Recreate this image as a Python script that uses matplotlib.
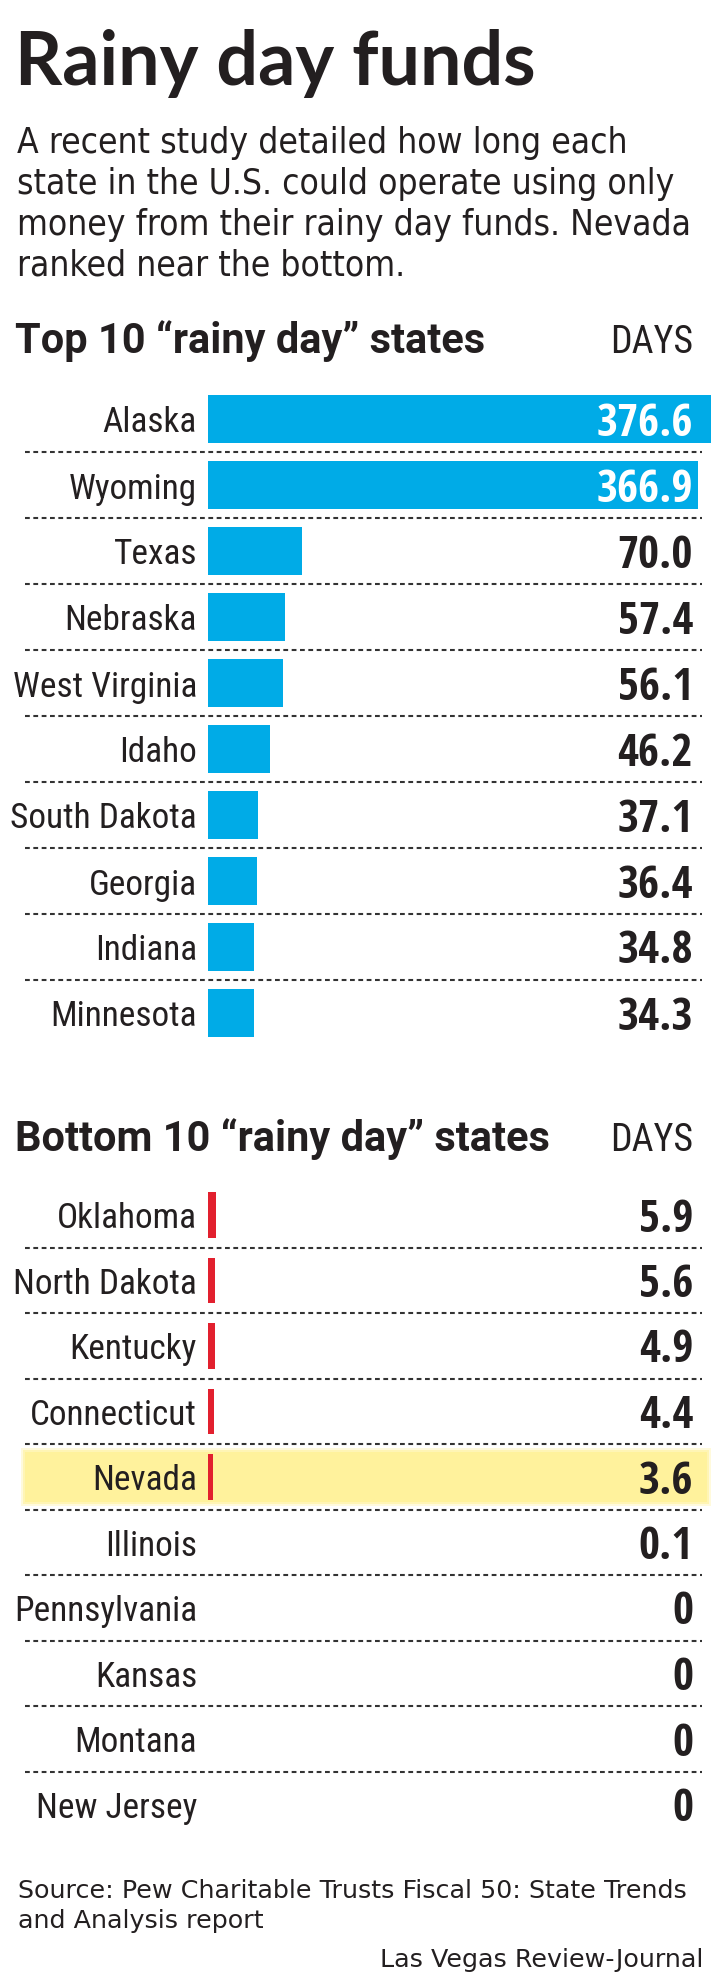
import os
import math
import matplotlib
matplotlib.use("Agg")
import matplotlib.pyplot as plt
from matplotlib import font_manager as fm
from matplotlib import transforms
from matplotlib.patches import Rectangle
from matplotlib.textpath import TextPath

# ---------------- data ----------------
top_states = ["Alaska", "Wyoming", "Texas", "Nebraska", "West Virginia",
              "Idaho", "South Dakota", "Georgia", "Indiana", "Minnesota"]
top_days = [376.6, 366.9, 70.0, 57.4, 56.1, 46.2, 37.1, 36.4, 34.8, 34.3]
top_labels = ["376.6", "366.9", "70.0", "57.4", "56.1",
              "46.2", "37.1", "36.4", "34.8", "34.3"]

bottom_states = ["Oklahoma", "North Dakota", "Kentucky", "Connecticut", "Nevada",
                 "Illinois", "Pennsylvania", "Kansas", "Montana", "New Jersey"]
bottom_days = [5.9, 5.6, 4.9, 4.4, 3.6, 0.1, 0, 0, 0, 0]
bottom_labels = ["5.9", "5.6", "4.9", "4.4", "3.6", "0.1", "0", "0", "0", "0"]
highlight_state = "Nevada"

title = "Rainy day funds"
intro_lines = ["A recent study detailed how long each",
               "state in the U.S. could operate using only",
               "money from their rainy day funds. Nevada",
               "ranked near the bottom."]
top_header = "Top 10 \u201crainy day\u201d states"
bottom_header = "Bottom 10 \u201crainy day\u201d states"
unit_label = "DAYS"
source_lines = ["Source: Pew Charitable Trusts Fiscal 50: State Trends",
                "and Analysis report"]
credit = "Las Vegas Review-Journal"

# ---------------- font choice (pick installed face closest in proportions) ----------------
BASES = ["roboto", "open sans", "noto sans", "liberation sans", "dejavu sans", "lato", "inter"]
OK_WORDS = {"condensed", "semicondensed", "extracondensed", "narrow", "semi", "extra",
            "ultra", "cond", "light", "medium", "semibold", "bold", "black",
            "extrabold", "display", "ultracondensed"}


def candidates(bold):
    out = {}
    target = 700 if bold else 400
    for f in fm.fontManager.ttflist:
        name = f.name.lower()
        if f.style != "normal":
            continue
        base = None
        for b in BASES:
            if name == b or name.startswith(b + " "):
                base = b
                break
        if base is None:
            continue
        rest = name[len(base):].split()
        if any(w not in OK_WORDS for w in rest):
            continue
        try:
            w = int(f.weight)
        except Exception:
            w = fm.weight_dict.get(str(f.weight), 400)
        if abs(w - target) > 100:
            continue
        out[f.fname] = abs(w - target)
    return out


_cache = {}


def ink(path, s):
    key = (path, s)
    if key not in _cache:
        tp = TextPath((0, 0), s, size=100, prop=fm.FontProperties(fname=path))
        ext = tp.get_extents()
        _cache[key] = (ext.width, ext.height)
    return _cache[key]


def choose(bold, samples, cap_px, alpha=0.5):
    best = None
    for path, wdiff in candidates(bold).items():
        try:
            c100 = ink(path, "H")[1]
            size_c = cap_px * 72.0 / c100
            logs = []
            for s, wt in samples:
                w100 = ink(path, s)[0]
                logs.append(math.log(wt * 72.0 / w100))
        except Exception:
            continue
        lw = sum(logs) / len(logs)
        err = abs(lw - math.log(size_c)) + 0.0015 * wdiff
        size = math.exp((1 - alpha) * math.log(size_c) + alpha * lw)
        if best is None or err < best[0]:
            best = (err, path, size)
    if best is None:
        return fm.FontProperties(family="DejaVu Sans", weight="bold" if bold else "normal",
                                 size=cap_px * 72.0 / 73.0)
    return fm.FontProperties(fname=best[1], size=best[2])


F_TITLE = choose(True, [(title, 515)], 53)
F_INTRO = choose(False, [(intro_lines[0], 615), (intro_lines[2], 668)], 25.5)
F_HEAD = choose(True, [(top_header, 460), (bottom_header, 540)], 29.5)
F_DAYS = choose(False, [(unit_label, 73)], 29)
F_LABEL = choose(False, [("West Virginia", 176), ("Alaska", 87)], 26)
F_VALUE = choose(True, [("376.6", 96), ("70.0", 67)], 33)
F_SRC = choose(False, [(source_lines[0], 664), (credit, 322)], 18.5)

INK = "#231F20"
BLUE = "#00ABE7"
RED = "#E2202E"
HILITE = "#FFF29C"

# ---------------- figure ----------------
W, H = 727, 1980
fig = plt.figure(figsize=(W / 100, H / 100), dpi=100)
fig.patch.set_facecolor("white")


def fx(px):
    return px / W


def fy(py):
    return 1 - py / H


PX_PER_DAY = 1.336
XMAX = 380
BAR_X0 = 208
VAL_X = 693
LABEL_GAP = 11


def make_axes(first_center, pitch, n=10):
    top = first_center - pitch / 2
    height = pitch * n
    ax = fig.add_axes([fx(BAR_X0), fy(top + height), XMAX * PX_PER_DAY / W, height / H])
    ax.set_xlim(0, XMAX)
    ax.set_ylim(n - 0.5, -0.5)
    ax.axis("off")
    return ax


def draw_section(ax, states, days, labels, colors, bar_h, value_colors, highlight=None):
    rows = list(range(len(states)))
    ax.barh(rows, days, height=bar_h, color=colors, zorder=2, linewidth=0)
    blend = transforms.blended_transform_factory(fig.transFigure, ax.transData)
    for i, (s, lab, vc) in enumerate(zip(states, labels, value_colors)):
        ax.annotate(s, xy=(0, i), xytext=(-LABEL_GAP, -13.5), textcoords="offset pixels",
                    ha="right", va="baseline", color=INK, fontproperties=F_LABEL,
                    zorder=3, annotation_clip=False)
        tr = transforms.offset_copy(blend, fig=fig, x=0, y=-16.5, units="dots")
        ax.text(fx(VAL_X), i, lab, transform=tr, ha="right", va="baseline",
                color=vc, fontproperties=F_VALUE, zorder=4, clip_on=False)
    for i in rows[:-1]:
        ax.plot([fx(25), fx(702)], [i + 0.5, i + 0.5], transform=blend, clip_on=False,
                color="#333333", lw=1.5, linestyle=(0, (2.3, 1.7)), zorder=1)
    if highlight is not None and highlight in states:
        k = states.index(highlight)
        for grow, alpha in [(0.06, 0.35), (0.03, 0.6), (0.0, 1.0)]:
            ax.add_patch(Rectangle((fx(25) - grow * 0.1, k - 0.38 - grow),
                                   fx(707) - fx(25) + grow * 0.2, 0.76 + 2 * grow,
                                   transform=blend, facecolor=HILITE, alpha=alpha,
                                   edgecolor="none", zorder=0, clip_on=False))


# title & intro
fig.text(fx(15), fy(85), title, ha="left", va="baseline", color=INK, fontproperties=F_TITLE)
for k, line in enumerate(intro_lines):
    fig.text(fx(17), fy(153 + 40.8 * k), line, ha="left", va="baseline", color=INK,
             fontproperties=F_INTRO)

# top section
fig.text(fx(15), fy(353), top_header, ha="left", va="baseline", color=INK,
         fontproperties=F_HEAD)
fig.text(fx(693), fy(353), unit_label, ha="right", va="baseline", color=INK,
         fontproperties=F_DAYS)
ax_top = make_axes(419, 66)
top_val_colors = ["white" if d > 300 else INK for d in top_days]
draw_section(ax_top, top_states, top_days, top_labels, BLUE, 0.727, top_val_colors)

# bottom section
fig.text(fx(15), fy(1151), bottom_header, ha="left", va="baseline", color=INK,
         fontproperties=F_HEAD)
fig.text(fx(693), fy(1151), unit_label, ha="right", va="baseline", color=INK,
         fontproperties=F_DAYS)
ax_bot = make_axes(1215, 65.5)
bot_colors = [RED if d >= 1 else "#7fd3f2" for d in bottom_days]
draw_section(ax_bot, bottom_states, bottom_days, bottom_labels, bot_colors, 0.70,
             [INK] * len(bottom_states), highlight=highlight_state)

# source & credit
for k, line in enumerate(source_lines):
    fig.text(fx(18), fy(1898 + 30 * k), line, ha="left", va="baseline", color=INK,
             fontproperties=F_SRC)
fig.text(fx(703), fy(1967), credit, ha="right", va="baseline", color=INK,
         fontproperties=F_SRC)

fig.savefig("out.png", dpi=100, facecolor="white")
